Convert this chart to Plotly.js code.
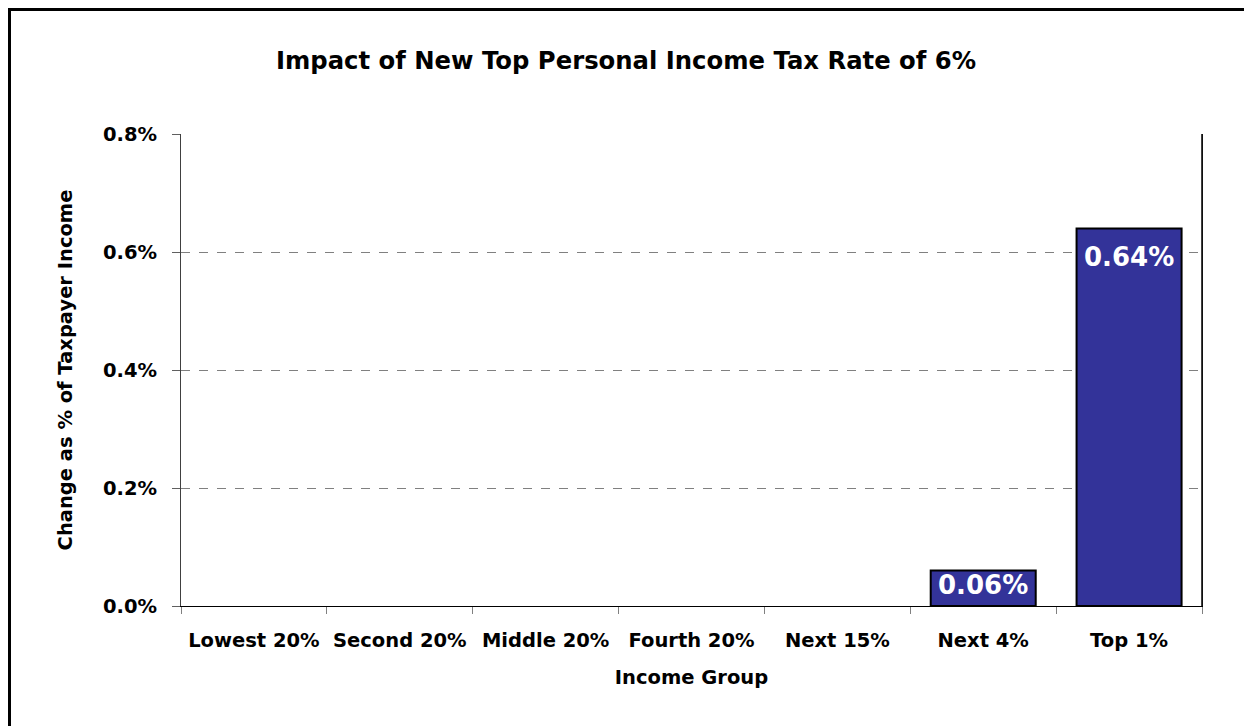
<!DOCTYPE html>
<html>
<head>
<meta charset="utf-8">
<script src="https://cdn.plot.ly/plotly-3.0.1.min.js"></script>
<style>html,body{margin:0;padding:0;background:#fff;}#chart{width:1244px;height:726px;}</style>
</head>
<body>
<div id="chart"></div>
<script>
var categories = ["Lowest 20%", "Second 20%", "Middle 20%", "Fourth 20%", "Next 15%", "Next 4%", "Top 1%"];
var values = [0, 0, 0, 0, 0, 0.06, 0.64];
var yTickValues = [0, 0.2, 0.4, 0.6, 0.8];
var yTickLabels = ["0.0%", "0.2%", "0.4%", "0.6%", "0.8%"];

var W = 1244, H = 726;
var M = {l: 181, r: 42, t: 134, b: 120};
var pw = W - M.l - M.r, ph = H - M.t - M.b;
var yMax = 0.8;
function px(x) { return (x - M.l) / pw; }
function py(y) { return (H - M.b - y) / ph; }

var font = "DejaVu Sans, Verdana, sans-serif";
var outlineWidths = values.map(function (v) { return v > 0 ? 2 : 0; });

var trace = {
  type: "bar",
  x: categories,
  y: values,
  marker: {color: "#333399", line: {color: "#000000", width: outlineWidths}},
  hoverinfo: "x+y"
};

// value labels inside the top of each non-zero bar
var valueLabels = [];
values.forEach(function (v, i) {
  if (v > 0) {
    var hpx = v / yMax * ph;
    valueLabels.push({
      x: categories[i], y: v, xref: "x", yref: "y",
      text: "<b>" + v.toFixed(2) + "%</b>",
      showarrow: false, xanchor: "center", yanchor: "middle",
      yshift: -Math.min(29, hpx * 0.42),
      font: {family: font, size: 26, color: "#ffffff"}
    });
  }
});

var layout = {
  width: W, height: H,
  margin: M,
  paper_bgcolor: "#ffffff",
  plot_bgcolor: "#ffffff",
  bargap: 0.28,
  showlegend: false,
  font: {family: font, color: "#000000"},
  title: {
    text: "<b>Impact of New Top Personal Income Tax Rate of 6%</b>",
    font: {family: font, size: 24.3, color: "#000000"},
    x: 626 / W, xanchor: "center", xref: "container",
    y: 1 - 60 / H, yanchor: "middle", yref: "container"
  },
  xaxis: {
    type: "category",
    tickson: "boundaries",
    ticks: "outside", ticklen: 7, tickwidth: 1, tickcolor: "#808080",
    ticklabelstandoff: 17,
    showline: true, linecolor: "#000000", linewidth: 1,
    showgrid: false,
    tickfont: {family: font, size: 19.5, color: "#000000", weight: "bold"},
    title: {text: "<b>Income Group</b>", font: {family: font, size: 19.5, color: "#000000"}, standoff: 18},
    fixedrange: true
  },
  yaxis: {
    range: [0, yMax],
    tickvals: yTickValues,
    ticktext: yTickLabels,
    ticks: "outside", ticklen: 8, tickwidth: 1, tickcolor: "#606060",
    ticklabelstandoff: 11,
    showline: true, mirror: true, linecolor: "#404040", linewidth: 1,
    showgrid: true, gridcolor: "#808080", gridwidth: 1, griddash: "dash",
    zeroline: false,
    tickfont: {family: font, size: 19.5, color: "#000000", weight: "bold"},
    title: {text: "<b>Change as % of Taxpayer Income</b>", font: {family: font, size: 19.5, color: "#000000"}, standoff: 25},
    fixedrange: true
  },
  annotations: valueLabels,
  shapes: [
    {type: "line", xref: "paper", yref: "paper", x0: 1, x1: 1, y0: 0, y1: 1, line: {color: "#000000", width: 1.5}},
    {type: "rect", xref: "paper", yref: "paper", x0: px(9.5), x1: px(1260), y0: py(9.5), y1: py(760), line: {color: "#000000", width: 3}, fillcolor: "rgba(0,0,0,0)"}
  ]
};

Plotly.newPlot("chart", [trace], layout, {displayModeBar: false, staticPlot: true});
</script>
</body>
</html>
